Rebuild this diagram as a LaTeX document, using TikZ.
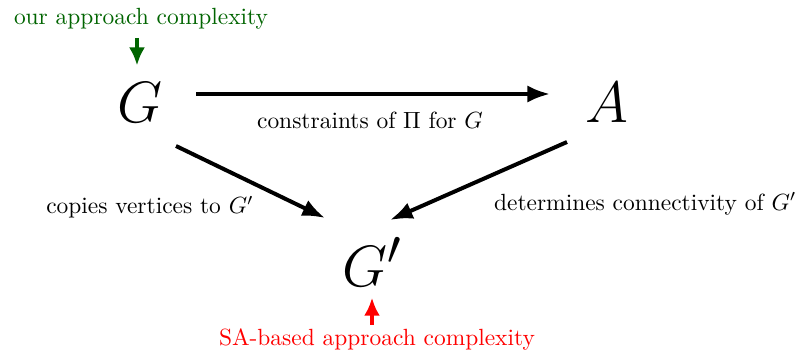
\documentclass[tikz,border=0pt]{standalone}
\usepackage{amsmath, amsfonts, amssymb}
\usetikzlibrary{arrows.meta,calc,positioning}
\definecolor{ourgreen}{RGB}{0,100,0}

\begin{document}
\begin{tikzpicture}[
    vertex/.style={font=\Huge},
    conn/.style={line width=1.7pt,-{Latex[length=3.4mm,width=2.6mm]}},
    note/.style={line width=1.7pt,-{Latex[length=2.7mm,width=2.4mm]}}]
    \useasboundingbox (0,0) rectangle (12.06,5.31);
    \node[vertex] (G) at (2.10,3.765) {$G$};
    \node[vertex] (A) at (9.105,3.765) {$A$};
    \node[vertex] (Gp) at (5.58,1.38) {$G'$};
    \node[text=ourgreen] (ours) at (2.115,5.025) {our approach complexity};
    \node[text=red] (sa) at (5.655,0.21) {SA-based approach complexity};
    \draw[conn] ($(G.center)+(0.84,0.135)$) -- ($(A.center)+(-0.855,0.135)$);
    \draw[conn] ($(G.center)+(0.54,-0.645)$) -- ($(Gp.center)+(-0.705,0.66)$);
    \draw[conn] ($(A.center)+(-0.6,-0.585)$) -- ($(Gp.center)+(0.27,0.63)$);
    \draw[note,ourgreen] ([xshift=-0.06cm]ours.south) -- ([xshift=-0.045cm,yshift=0.14cm]G.north);
    \draw[note,red] ([xshift=-0.075cm,yshift=-0.06cm]sa.north) -- ([yshift=-0.05cm]Gp.south);
    \node (lGA) at (5.55,3.51) {constraints of $\Pi$ for $G$};
    \node (lGGp) at (2.25,2.205) {copies vertices to $G'$};
    \node (lAGp) at (9.68,2.25) {determines connectivity of $G'$};
\end{tikzpicture}
\end{document}
